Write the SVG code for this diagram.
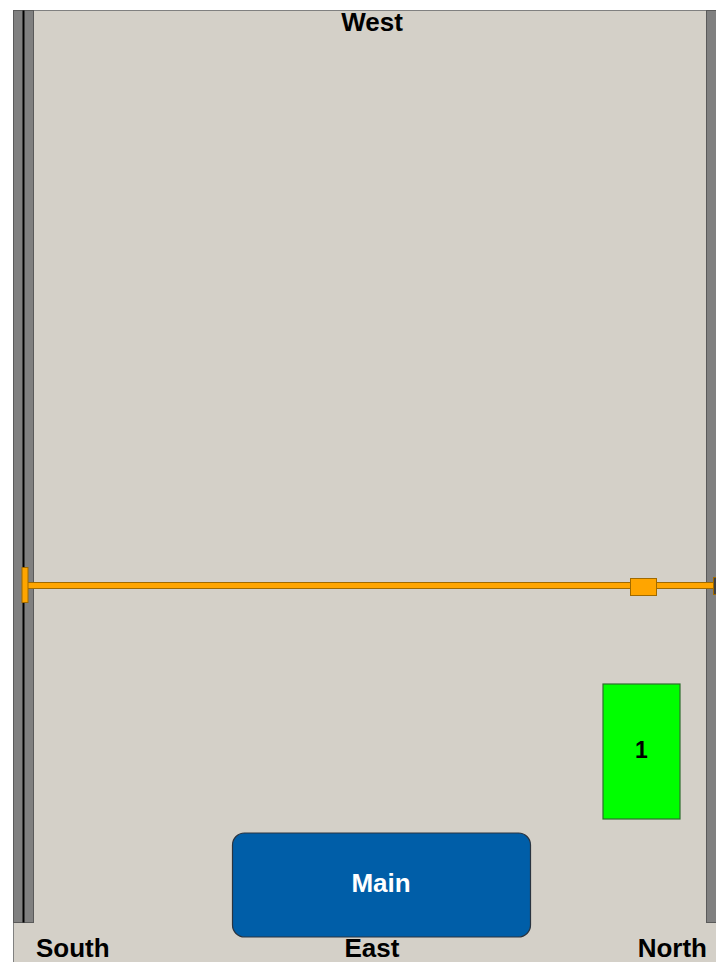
<svg xmlns="http://www.w3.org/2000/svg" width="716" height="962" viewBox="0 0 716 962">
<style>
.lbl{font-family:"Liberation Sans",Arial,sans-serif;font-weight:bold;font-size:26px;fill:#000}
.wall{fill:#808080;stroke:#5a5a5a;stroke-width:1}
.beam{fill:#ffa500;stroke:#a06a00;stroke-width:1}
</style>
<rect x="0" y="0" width="716" height="962" fill="#ffffff"/>
<g id="floor">
<rect x="13.5" y="10.5" width="703" height="952" fill="#d4d0c8" stroke="#808080" stroke-width="1"/>
</g>
<g id="wall-south">
<rect class="wall" x="13.5" y="10.5" width="20" height="912"/>
<rect x="22.5" y="10.5" width="2" height="912" fill="#000"/>
</g>
<g id="wall-north">
<rect class="wall" x="706.5" y="10.5" width="12" height="912"/>
</g>
<g id="connectors">
<rect class="beam" x="24" y="582.5" width="694" height="6"/>
</g>
<g id="beam-end-left">
<rect class="beam" x="22" y="567.5" width="6" height="35"/>
</g>
<g id="beam-end-right">
<rect class="beam" x="713.5" y="577.5" width="6" height="17" style="fill:#404040"/>
</g>
<g id="trolley">
<rect class="beam" x="630.5" y="578.5" width="26" height="17"/>
</g>
<g id="node-1">
<rect x="603" y="684" width="77" height="135" fill="#00ff00" stroke="#2d6e2d" stroke-width="1.2"/>
<text class="lbl" x="641.5" y="758" text-anchor="middle" style="font-size:23px">1</text>
</g>
<g id="node-main">
<rect x="232.5" y="833" width="298" height="104" rx="12" ry="12" fill="#005ea8" stroke="#2a3440" stroke-width="1.2"/>
<text class="lbl" x="381" y="892" text-anchor="middle" style="fill:#ffffff">Main</text>
</g>
<g id="labels">
<text class="lbl" x="372" y="31" text-anchor="middle">West</text>
<text class="lbl" x="36" y="957">South</text>
<text class="lbl" x="372" y="957" text-anchor="middle">East</text>
<text class="lbl" x="707" y="957" text-anchor="end">North</text>
</g>
</svg>
